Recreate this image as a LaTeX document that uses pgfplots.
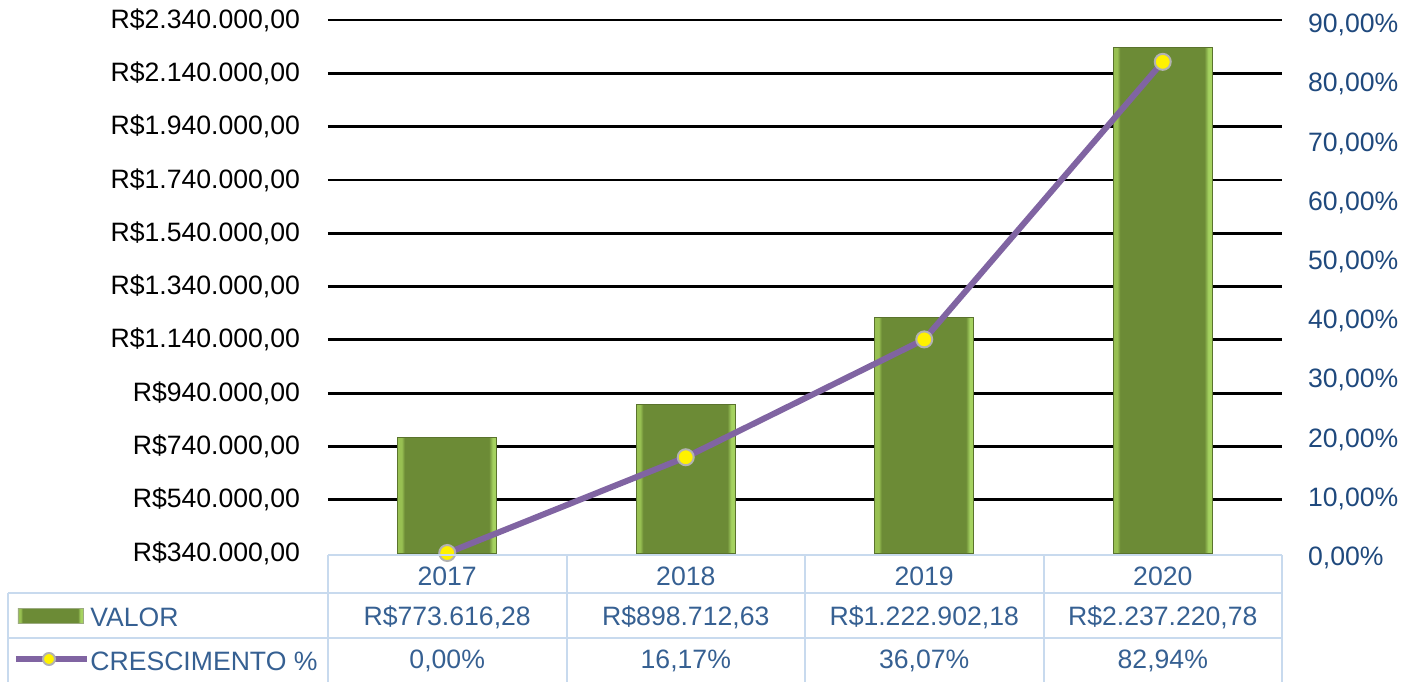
\documentclass[border=0pt]{standalone}
\usepackage{fontspec}
\setmainfont{Liberation Sans}
\usepackage{pgfplots}
\pgfplotsset{compat=1.18}

\definecolor{barE}{RGB}{152,192,82}
\definecolor{barM}{RGB}{108,139,54}
\definecolor{barR}{RGB}{165,210,96}
\definecolor{barLine}{RGB}{90,115,45}
\definecolor{lineP}{RGB}{128,100,162}
\definecolor{tblue}{RGB}{54,96,146}
\definecolor{rblue}{RGB}{31,73,125}
\definecolor{tline}{RGB}{200,218,238}

% bevelled look: light edges, dark olive face
\pgfdeclarehorizontalshading{barshade}{100bp}{color(0bp)=(barE); color(25bp)=(barE); color(27bp)=(barE); color(28.5bp)=(barM); color(71bp)=(barM); color(73bp)=(barR); color(75bp)=(barR); color(100bp)=(barR)}

\newcommand{\lbl}{\fontsize{13.3}{15}\selectfont}

\begin{document}
\begin{tikzpicture}
\pgfplotsset{
  base/.style={
    scale only axis, width=477pt, height=266.5pt,
    xmin=-0.5, xmax=3.5, xtick=\empty,
    axis line style={draw=none}, tick style={draw=none},
    tick label style={font=\lbl},
    scaled y ticks=false,
  },
  valbar/.style={ybar, bar width=0.415, bar shift=0pt, draw=barLine, shading=barshade},
}
% left axis: VALOR
\begin{axis}[base,
    ymin=340000, ymax=2340000,
    ytick={540000,740000,940000,1140000,1340000,1540000,1740000,1940000,2140000,2340000},
    yticklabels={{R\$540.000,00},{R\$740.000,00},{R\$940.000,00},{R\$1.140.000,00},{R\$1.340.000,00},{R\$1.540.000,00},{R\$1.740.000,00},{R\$1.940.000,00},{R\$2.140.000,00},{R\$2.340.000,00}},
    extra y ticks={340000}, extra y tick labels={R\$340.000{,}00},
    extra y tick style={grid=none},
    ymajorgrids, major grid style={black, line width=1.4pt},
    yticklabel style={anchor=east, xshift=-10.5pt},
  ]
\addplot[valbar] coordinates {(0,773616.28)};
\addplot[valbar] coordinates {(1,898712.63)};
\addplot[valbar] coordinates {(2,1222902.18)};
\addplot[valbar] coordinates {(3,2237220.78)};
\coordinate (O) at (rel axis cs:0,0);
\end{axis}
% right axis: CRESCIMENTO %
\begin{axis}[base, clip=false,
    ymin=0, ymax=90,
    ytick={0,10,20,30,40,50,60,70,80,90},
    yticklabels={{0,00\%},{10,00\%},{20,00\%},{30,00\%},{40,00\%},{50,00\%},{60,00\%},{70,00\%},{80,00\%},{90,00\%}},
    yticklabel pos=right,
    yticklabel style={anchor=west, text=rblue, xshift=9.5pt, yshift=-2.5pt},
  ]
\addplot[lineP, line width=3pt, mark=*, mark size=4pt,
  mark options={fill=yellow, draw=gray!60, line width=1pt}] coordinates {
  (0,0) (1,16.17) (2,36.07) (3,82.94)
};
\end{axis}

% data table below the plot
\begin{scope}[shift={(O)}, x=1pt, y=1pt]
  \draw[tline, line width=1pt] (0,-1) -- (477,-1);
  \draw[tline, line width=1pt] (-160,-20) -- (477,-20);
  \draw[tline, line width=1pt] (-160,-42.5) -- (477,-42.5);
  \draw[tline, line width=1pt] (-160,-20) -- (-160,-64.5);
  \foreach \x in {0,119.25,238.5,357.75,477}
    \draw[tline, line width=1pt] (\x,-1) -- (\x,-64.5);
  \foreach \x/\y in {59.6/2017,178.9/2018,298.1/2019,417.4/2020}
    \node[text=tblue, font=\lbl] at (\x,-11.5) {\y};
  \foreach \x/\v in {59.6/{R\$773.616,28},178.9/{R\$898.712,63},298.1/{R\$1.222.902,18},417.4/{R\$2.237.220,78}}
    \node[text=tblue, font=\lbl] at (\x,-32) {\v};
  \foreach \x/\v in {59.6/{0,00\%},178.9/{16,17\%},298.1/{36,07\%},417.4/{82,94\%}}
    \node[text=tblue, font=\lbl] at (\x,-54) {\v};
  % legend keys
  \shade[shading=barshade, draw=barLine!60, line width=0.3pt] (-155,-35) rectangle (-122.5,-27.5);
  \node[text=tblue, font=\lbl, anchor=west, inner sep=0pt] at (-119,-32) {VALOR};
  \draw[lineP, line width=3pt] (-156,-53) -- (-120.5,-53);
  \filldraw[fill=yellow, draw=gray!60, line width=1pt] (-139.5,-53) circle (3pt);
  \node[text=tblue, font=\lbl, anchor=west, inner sep=0pt] at (-119,-54) {CRESCIMENTO \%};
  \pgfresetboundingbox
  \path[use as bounding box] (-164,-64.5) rectangle (539.5,276.5);
\end{scope}
\end{tikzpicture}
\end{document}
